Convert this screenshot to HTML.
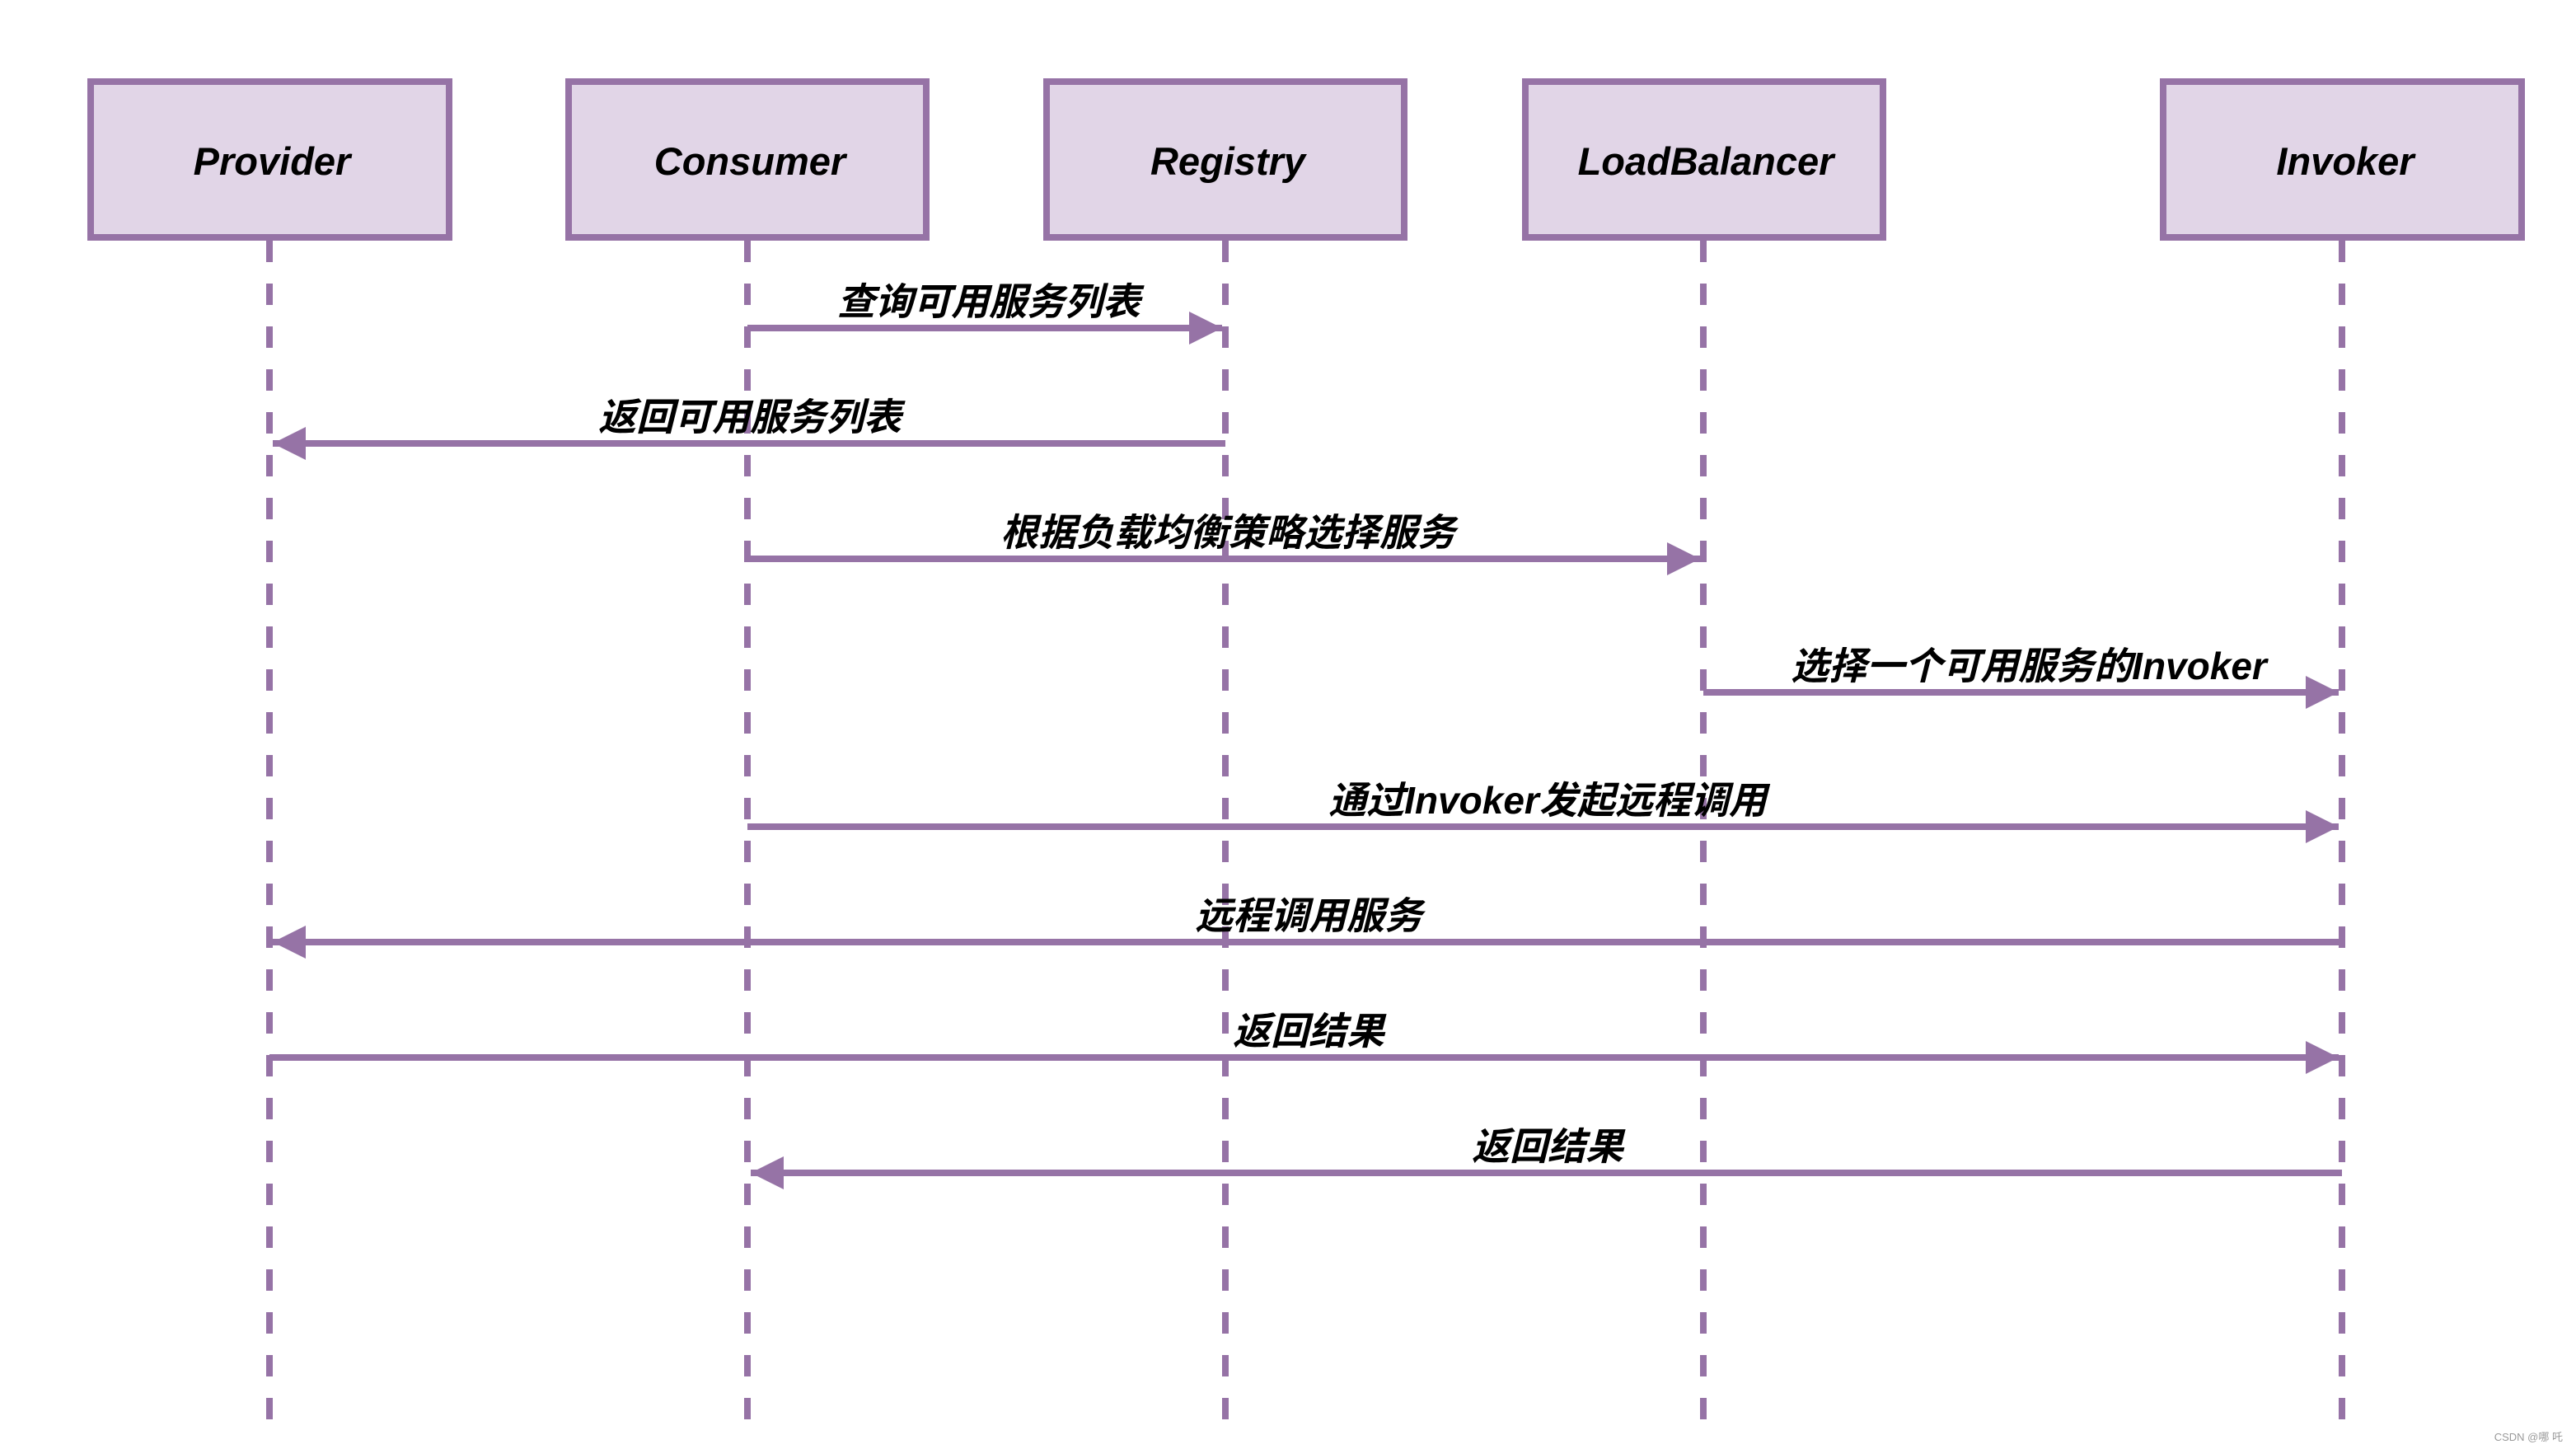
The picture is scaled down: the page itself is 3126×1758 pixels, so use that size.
<!DOCTYPE html>
<html><head><meta charset="utf-8"><style>
html,body{margin:0;padding:0;background:#fff;}
svg{display:block;}
.t{font-family:"Liberation Sans","Noto Sans CJK SC",sans-serif;font-weight:bold;font-style:italic;fill:#000;}
</style></head><body>
<svg width="3126" height="1758" viewBox="0 0 3126 1758" xmlns="http://www.w3.org/2000/svg">
<defs>
<marker id="ah" markerUnits="userSpaceOnUse" markerWidth="44" markerHeight="44" refX="40" refY="22" orient="auto">
<path d="M0,2 L40,22 L0,42 Z" fill="#9673a6"/>
</marker>
</defs>
<g fill="#e1d5e7" stroke="#9673a6" stroke-width="8">
<rect x="110" y="99" width="435" height="189"/>
<rect x="690" y="99" width="434" height="189"/>
<rect x="1270" y="99" width="434" height="189"/>
<rect x="1851" y="99" width="434" height="189"/>
<rect x="2625" y="99" width="435" height="189"/>
</g>
<g class="t" font-size="47" text-anchor="middle">
<text x="330" y="212">Provider</text>
<text x="910" y="212">Consumer</text>
<text x="1490" y="212">Registry</text>
<text x="2070" y="212">LoadBalancer</text>
<text x="2846" y="212">Invoker</text>
</g>
<g stroke="#9673a6" stroke-width="8" stroke-dasharray="26 26" fill="none">
<line x1="327" y1="292" x2="327" y2="1725"/>
<line x1="907" y1="292" x2="907" y2="1725"/>
<line x1="1487" y1="292" x2="1487" y2="1725"/>
<line x1="2067" y1="292" x2="2067" y2="1725"/>
<line x1="2842" y1="292" x2="2842" y2="1725"/>
</g>
<g stroke="#9673a6" stroke-width="8" fill="none" marker-end="url(#ah)">
<line x1="907" y1="398" x2="1483" y2="398"/>
<line x1="1487" y1="538" x2="331" y2="538"/>
<line x1="907" y1="678" x2="2063" y2="678"/>
<line x1="2067" y1="840" x2="2838" y2="840"/>
<line x1="907" y1="1003" x2="2838" y2="1003"/>
<line x1="2842" y1="1143" x2="331" y2="1143"/>
<line x1="327" y1="1283" x2="2838" y2="1283"/>
<line x1="2842" y1="1423" x2="911" y2="1423"/>
</g>
<g class="t" font-size="46" text-anchor="middle">
<text x="1200" y="382">查询可用服务列表</text>
<text x="910" y="522">返回可用服务列表</text>
<text x="1490" y="662">根据负载均衡策略选择服务</text>
<text x="2462" y="824">选择一个可用服务的Invoker</text>
<text x="1878" y="987">通过Invoker发起远程调用</text>
<text x="1588" y="1127">远程调用服务</text>
<text x="1588" y="1267">返回结果</text>
<text x="1878" y="1407">返回结果</text>
</g>
<text x="3110" y="1748" text-anchor="end" font-size="13" fill="#999" font-family="Liberation Sans,'Noto Sans CJK SC',sans-serif">CSDN @哪 吒</text>
</svg>
</body></html>
